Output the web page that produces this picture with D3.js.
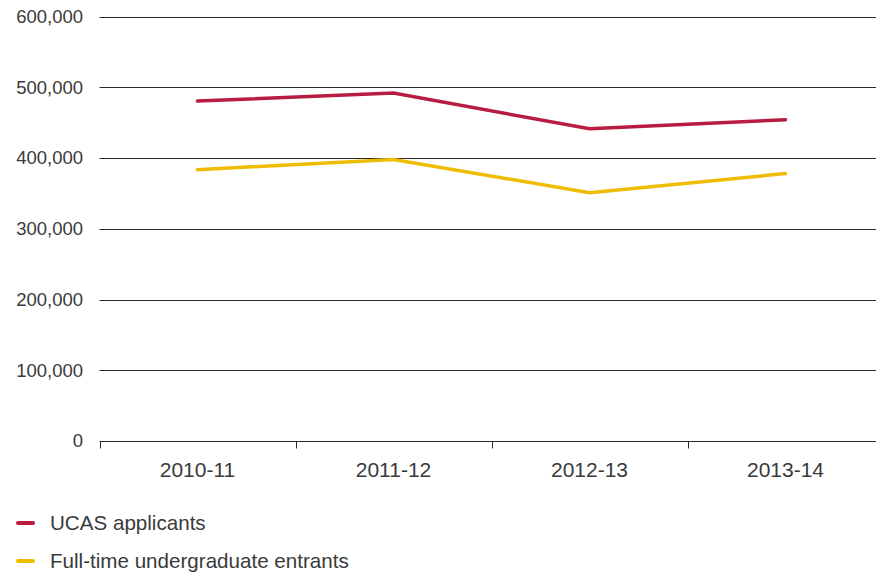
<!DOCTYPE html>
<html>
<head>
<meta charset="utf-8">
<script src="https://cdn.jsdelivr.net/npm/d3@7"></script>
<style>
  html, body { margin: 0; padding: 0; background: #fff; }
  svg { display: block; font-family: "Liberation Sans", Arial, sans-serif; }
</style>
</head>
<body>
<svg id="chart" width="876" height="574"></svg>
<script>
// Academic years shown on the x axis
const years = ["2010-11", "2011-12", "2012-13", "2013-14"];
// UCAS applicants per year
const ucasApplicants = [480400, 491700, 441400, 454100];
// Full-time undergraduate entrants per year
const ftEntrants = [383500, 398000, 351000, 378000];
// Y axis tick values
const yTicks = [0, 100000, 200000, 300000, 400000, 500000, 600000];

const seriesNames = ["UCAS applicants", "Full-time undergraduate entrants"];
const seriesColors = ["#b81c40", "#f0bc00"];
const series = [ucasApplicants, ftEntrants];

const svg = d3.select("#chart");
const W = 876;

const x = d3.scaleBand().domain(years).range([99.5, 883.5]);
const y = d3.scaleLinear().domain([0, 600000]).range([441, 16.5]);

// Horizontal gridlines
svg.append("g")
  .selectAll("line")
  .data(yTicks.filter(d => d > 0))
  .join("line")
  .attr("x1", 99.5).attr("x2", W)
  .attr("y1", d => Math.round(y(d)) + 0.5)
  .attr("y2", d => Math.round(y(d)) + 0.5)
  .attr("stroke", "#2a2a2a")
  .attr("stroke-width", 1);

// Y tick labels
svg.append("g")
  .selectAll("text")
  .data(yTicks)
  .join("text")
  .attr("x", 83)
  .attr("y", d => y(d))
  .attr("dy", "0.35em")
  .attr("text-anchor", "end")
  .attr("fill", "#3a3a3a")
  .style("font-size", "18.5px")
  .text(d => d3.format(",")(d));

// X axis baseline with category boundary ticks
const xAxis = svg.append("g")
  .attr("transform", `translate(0,${Math.round(y(0)) + 0.5})`)
  .call(d3.axisBottom(x).tickSize(0).tickFormat(""));
xAxis.select(".domain").remove();
xAxis.append("line")
  .attr("x1", 99.5).attr("x2", W)
  .attr("stroke", "#2a2a2a");
xAxis.selectAll(".bound")
  .data(years)
  .join("line")
  .attr("class", "bound")
  .attr("x1", d => Math.round(x(d)) + 0.5)
  .attr("x2", d => Math.round(x(d)) + 0.5)
  .attr("y1", 0).attr("y2", 7)
  .attr("stroke", "#2a2a2a");

// X tick labels
svg.append("g")
  .selectAll("text")
  .data(years)
  .join("text")
  .attr("x", d => x(d) + x.bandwidth() / 2)
  .attr("y", 470)
  .attr("dy", "0.35em")
  .attr("text-anchor", "middle")
  .attr("fill", "#3a3a3a")
  .style("font-size", "21px")
  .text(d => d);

// Series lines
const line = d3.line()
  .x((d, i) => x(years[i]) + x.bandwidth() / 2)
  .y(d => y(d));

svg.append("g")
  .selectAll("path")
  .data(series)
  .join("path")
  .attr("d", d => line(d))
  .attr("fill", "none")
  .attr("stroke", (d, i) => seriesColors[i])
  .attr("stroke-width", 3.5)
  .attr("stroke-linejoin", "miter")
  .attr("stroke-linecap", "round");

// Legend
const legend = svg.append("g")
  .selectAll("g")
  .data(seriesNames)
  .join("g")
  .attr("transform", (d, i) => `translate(0,${523 + i * 38})`);
legend.append("line")
  .attr("x1", 18).attr("x2", 33)
  .attr("stroke", (d, i) => seriesColors[i])
  .attr("stroke-width", 4)
  .attr("stroke-linecap", "round");
legend.append("text")
  .attr("x", 50)
  .attr("dy", "0.35em")
  .attr("fill", "#3a3a3a")
  .style("font-size", "20.6px")
  .text(d => d);
</script>
</body>
</html>
